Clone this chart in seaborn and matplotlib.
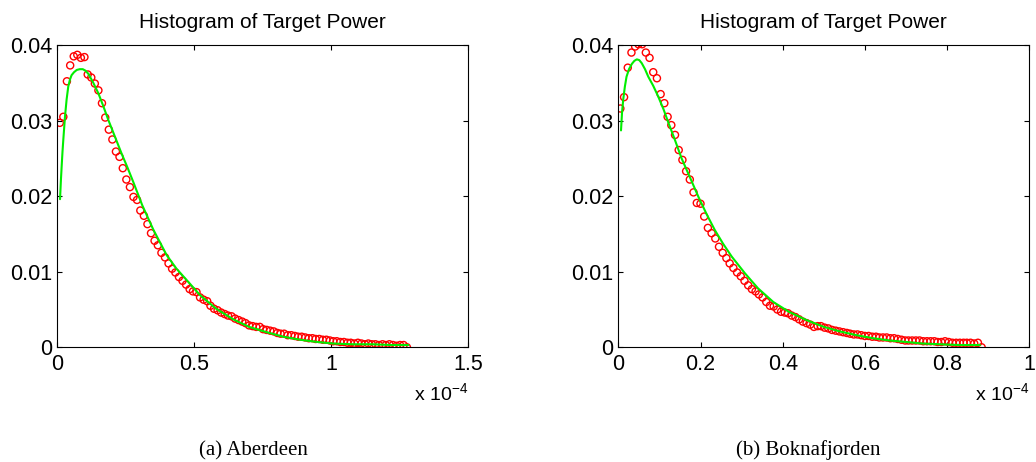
import numpy as np
import pandas as pd
import matplotlib
matplotlib.use("Agg")
import matplotlib.pyplot as plt
import seaborn as sns

# ---------------- data (x in units of 1e-4) ----------------
titles = ["Histogram of Target Power", "Histogram of Target Power"]
captions = ["(a) Aberdeen", "(b) Boknafjorden"]

left_x = [0.009, 0.022, 0.035, 0.047, 0.060, 0.073, 0.086, 0.099, 0.111, 0.124,
          0.137, 0.150, 0.163, 0.175, 0.188, 0.201, 0.214, 0.227, 0.239, 0.252,
          0.265, 0.278, 0.291, 0.303, 0.316, 0.329, 0.342, 0.355, 0.367, 0.380,
          0.393, 0.406, 0.419, 0.431, 0.444, 0.457, 0.470, 0.483, 0.495, 0.508,
          0.521, 0.534, 0.547, 0.559, 0.572, 0.585, 0.598, 0.611, 0.623, 0.636,
          0.649, 0.662, 0.675, 0.687, 0.700, 0.713, 0.726, 0.739, 0.751, 0.764,
          0.777, 0.790, 0.803, 0.815, 0.828, 0.841, 0.854, 0.867, 0.879, 0.892,
          0.905, 0.918, 0.931, 0.943, 0.956, 0.969, 0.982, 0.995, 1.007, 1.020,
          1.033, 1.046, 1.059, 1.071, 1.084, 1.097, 1.110, 1.123, 1.135, 1.148,
          1.161, 1.174, 1.187, 1.199, 1.212, 1.225, 1.238, 1.251, 1.264, 1.276]
left_y = [0.0297, 0.0305, 0.0352, 0.0373, 0.0385, 0.0387, 0.0383, 0.0384, 0.0361, 0.0357,
          0.0349, 0.0340, 0.0323, 0.0304, 0.0288, 0.0275, 0.0259, 0.0252, 0.0237, 0.0222,
          0.0212, 0.0199, 0.0195, 0.0181, 0.0174, 0.0163, 0.0151, 0.0141, 0.0135, 0.0125,
          0.0119, 0.0111, 0.0104, 0.0099, 0.0093, 0.0088, 0.0083, 0.0077, 0.0074, 0.0073,
          0.0066, 0.0063, 0.0061, 0.0055, 0.0051, 0.0049, 0.0046, 0.0044, 0.0042, 0.0041,
          0.0038, 0.0036, 0.0034, 0.0032, 0.0029, 0.0028, 0.0027, 0.0027, 0.0024, 0.0023,
          0.0022, 0.0021, 0.0019, 0.0018, 0.0018, 0.0016, 0.0016, 0.0015, 0.0014, 0.0014,
          0.0013, 0.0012, 0.0012, 0.0011, 0.0011, 0.0010, 0.0010, 0.0009, 0.0008, 0.0008,
          0.0007, 0.0007, 0.0006, 0.0006, 0.0005, 0.0006, 0.0005, 0.0004, 0.0005, 0.0004,
          0.0004, 0.0003, 0.0004, 0.0003, 0.0004, 0.0003, 0.0002, 0.0003, 0.0003, 0.0000]
left_fit_x = [0.010, 0.013, 0.016, 0.019, 0.022, 0.028, 0.034, 0.040, 0.046, 0.052,
              0.061, 0.071, 0.082, 0.093, 0.103, 0.113, 0.130, 0.150, 0.168, 0.186,
              0.210, 0.235, 0.256, 0.277, 0.310, 0.350, 0.399, 0.435, 0.472, 0.521,
              0.580, 0.642, 0.700, 0.764, 0.825, 0.886, 0.950, 1.007, 1.080, 1.150,
              1.220, 1.281]
left_fit_y = [0.0196, 0.0220, 0.0240, 0.0259, 0.0275, 0.0305, 0.0328, 0.0345, 0.0354, 0.0360,
              0.0364, 0.0367, 0.0368, 0.0368, 0.0366, 0.0362, 0.0351, 0.0336, 0.0319, 0.0301,
              0.0279, 0.0256, 0.0238, 0.0219, 0.0188, 0.0156, 0.0122, 0.0104, 0.0089, 0.0069,
              0.0051, 0.0037, 0.0027, 0.0020, 0.0014, 0.0010, 0.0007, 0.0005, 0.0004, 0.0004,
              0.0003, 0.0003]

right_x = [0.005, 0.014, 0.023, 0.032, 0.041, 0.049, 0.058, 0.067, 0.076, 0.085,
           0.094, 0.103, 0.112, 0.120, 0.129, 0.138, 0.147, 0.156, 0.165, 0.174,
           0.183, 0.191, 0.200, 0.209, 0.218, 0.227, 0.236, 0.245, 0.254, 0.263,
           0.271, 0.280, 0.289, 0.298, 0.307, 0.316, 0.325, 0.334, 0.342, 0.351,
           0.360, 0.369, 0.378, 0.387, 0.396, 0.405, 0.413, 0.422, 0.431, 0.440,
           0.449, 0.458, 0.467, 0.476, 0.485, 0.493, 0.502, 0.511, 0.520, 0.529,
           0.538, 0.547, 0.556, 0.564, 0.573, 0.582, 0.591, 0.600, 0.609, 0.618,
           0.627, 0.635, 0.644, 0.653, 0.662, 0.671, 0.680, 0.689, 0.698, 0.706,
           0.715, 0.724, 0.733, 0.742, 0.751, 0.760, 0.769, 0.777, 0.786, 0.795,
           0.804, 0.813, 0.822, 0.831, 0.840, 0.848, 0.857, 0.866, 0.875, 0.884]
right_y = [0.0316, 0.0331, 0.0370, 0.0390, 0.0398, 0.0401, 0.0401, 0.0390, 0.0383, 0.0364,
           0.0356, 0.0335, 0.0323, 0.0305, 0.0294, 0.0281, 0.0261, 0.0248, 0.0233, 0.0222,
           0.0205, 0.0191, 0.0190, 0.0173, 0.0158, 0.0151, 0.0144, 0.0133, 0.0125, 0.0118,
           0.0111, 0.0105, 0.0099, 0.0094, 0.0088, 0.0082, 0.0077, 0.0074, 0.0070, 0.0066,
           0.0060, 0.0055, 0.0054, 0.0050, 0.0047, 0.0046, 0.0045, 0.0042, 0.0040, 0.0037,
           0.0034, 0.0032, 0.0030, 0.0027, 0.0028, 0.0028, 0.0026, 0.0025, 0.0023, 0.0022,
           0.0021, 0.0020, 0.0019, 0.0018, 0.0017, 0.0017, 0.0016, 0.0015, 0.0015, 0.0014,
           0.0014, 0.0013, 0.0013, 0.0013, 0.0012, 0.0012, 0.0011, 0.0010, 0.0009, 0.0009,
           0.0009, 0.0009, 0.0009, 0.0008, 0.0008, 0.0008, 0.0008, 0.0007, 0.0007, 0.0008,
           0.0007, 0.0006, 0.0006, 0.0006, 0.0006, 0.0006, 0.0006, 0.0005, 0.0006, 0.0000]
right_fit_x = [0.0066, 0.009, 0.012, 0.016, 0.020, 0.026, 0.033, 0.039, 0.045, 0.051,
               0.057, 0.065, 0.073, 0.085, 0.097, 0.110, 0.122, 0.138, 0.154, 0.175,
               0.195, 0.215, 0.235, 0.255, 0.276, 0.308, 0.340, 0.377, 0.415, 0.458,
               0.500, 0.539, 0.580, 0.620, 0.660, 0.702, 0.740, 0.783, 0.830, 0.880]
right_fit_y = [0.0287, 0.0310, 0.0328, 0.0345, 0.0358, 0.0368, 0.0375, 0.0379, 0.0381, 0.0380,
               0.0376, 0.0368, 0.0358, 0.0346, 0.0332, 0.0315, 0.0297, 0.0274, 0.0250, 0.0224,
               0.0199, 0.0176, 0.0155, 0.0137, 0.0120, 0.0098, 0.0078, 0.0060, 0.0047, 0.0036,
               0.0027, 0.0021, 0.0016, 0.0012, 0.0009, 0.0007, 0.0005, 0.0004, 0.0003, 0.0003]

left_xticks = [0, 0.5, 1, 1.5]
left_xticklabels = ["0", "0.5", "1", "1.5"]
right_xticks = [0, 0.2, 0.4, 0.6, 0.8, 1.0]
right_xticklabels = ["0", "0.2", "0.4", "0.6", "0.8", "1"]
yticks = [0, 0.01, 0.02, 0.03, 0.04]
yticklabels = ["0", "0.01", "0.02", "0.03", "0.04"]

# ---------------- figure ----------------
sns.set_style("white")
plt.rcParams["font.family"] = ["Liberation Sans", "DejaVu Sans"]
plt.rcParams["mathtext.default"] = "regular"

W, H = 1036, 462
fig = plt.figure(figsize=(W / 100, H / 100), dpi=100)

def px_axes(l, t, r, b):
    return fig.add_axes([l / W, (H - b) / H, (r - l) / W, (b - t) / H])

ax1 = px_axes(57.3, 45, 468.3, 347.3)
ax2 = px_axes(618.3, 45, 1029.3, 347.3)

panels = [
    (ax1, left_x, left_y, left_fit_x, left_fit_y, (0, 1.5), left_xticks, left_xticklabels, captions[0], 253),
    (ax2, right_x, right_y, right_fit_x, right_fit_y, (0, 1.0), right_xticks, right_xticklabels, captions[1], 808),
]

for i, (ax, hx, hy, fx, fy, xlim, xt, xtl, cap, capx) in enumerate(panels):
    df_h = pd.DataFrame({"x": hx, "y": hy})
    df_f = pd.DataFrame({"x": fx, "y": fy})
    sns.scatterplot(data=df_h, x="x", y="y", ax=ax, marker="o", s=26,
                    facecolor="none", edgecolor="#ff0000", linewidth=1.0, zorder=2)
    sns.lineplot(data=df_f, x="x", y="y", ax=ax, color="#00ee00", linewidth=1.5,
                 sort=False, estimator=None, zorder=3)
    ax.set_xlim(*xlim)
    ax.set_ylim(0, 0.04)
    ax.set_xticks(xt)
    ax.set_xticklabels(xtl)
    ax.set_yticks(yticks)
    ax.set_yticklabels(yticklabels)
    ax.set_xlabel("")
    ax.set_ylabel("")
    ax.tick_params(direction="in", length=3.5, width=0.8, colors="black",
                   labelsize=15.5, top=True, right=True, bottom=True, left=True)
    ax.tick_params(axis="y", pad=3.5)
    ax.tick_params(axis="x", pad=4.5)
    for sp in ax.spines.values():
        sp.set_visible(True)
        sp.set_color("black")
        sp.set_linewidth(0.8)
    ax.set_title(titles[i], fontsize=15, pad=12.5, color="black")
    ax.text(1.0, -0.175, "x 10$^{-4}$", transform=ax.transAxes, ha="right",
            va="baseline", fontsize=14, color="black")
    fig.text(capx / W, (H - 455) / H, cap, ha="center", va="baseline",
             fontsize=15, family=["Liberation Serif", "DejaVu Serif"], color="black")

fig.savefig("out.png", dpi=100)
